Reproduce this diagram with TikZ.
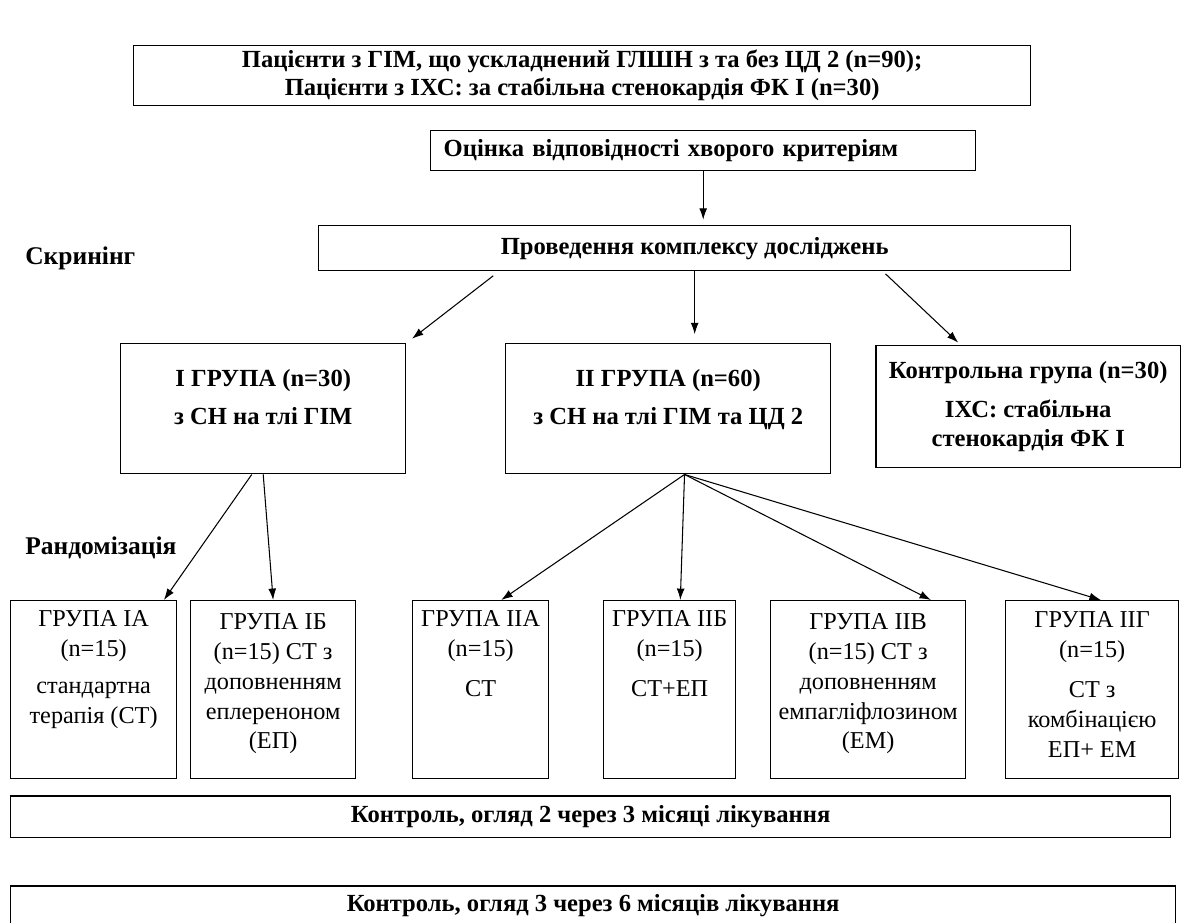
\documentclass[tikz,border=0pt]{standalone}
\usepackage{fontspec}
\setmainfont{Liberation Serif}
\usetikzlibrary{arrows.meta, positioning, calc}

\begin{document}
\begin{tikzpicture}[x=0.02cm, y=-0.02cm]

\tikzstyle{block}=[rectangle,draw,line width=0.85pt,anchor=north west,inner sep=0pt,align=center,font=\fontsize{14}{16.5}\selectfont\bfseries]
\tikzstyle{arm}=[rectangle,draw,line width=0.75pt,anchor=north west,inner sep=0pt,align=center,minimum height=3.56cm,font=\fontsize{13.8}{17}\selectfont]
\tikzstyle{tag}=[anchor=west,inner sep=0pt,font=\fontsize{14.5}{17}\selectfont\bfseries]
\tikzstyle{line}=[draw, -{Latex[length=6.5pt,width=4.5pt]}, line width=0.6pt]

\clip (0,0) rectangle (1187,923);

\node (top) [block,minimum width=17.94cm,minimum height=1.2cm] at (133,45) {Пацієнти з ГІМ, що ускладнений ГЛШН з та без ЦД 2 (n=90);\\[-0.5pt] Пацієнти з ІХС: за стабільна стенокардія ФК І (n=30)};

\node (crit) [block,minimum height=0.8cm,text width=10.38cm,inner xsep=0.26cm,align=left] at (430,130) {Оцінка відповідності хворого критеріям};

\node (research) [block,minimum width=15.04cm,minimum height=0.9cm] at (318,225) {Проведення комплексу досліджень};

\node (screen) [tag] at (25,258) {Скринінг};

\node (grp1) [block,minimum width=5.7cm,minimum height=2.6cm,text depth=0.46cm] at (120,343) {І ГРУПА (n=30)\\[5pt] з СН на тлі ГІМ};
\node (grp2) [block,minimum width=6.5cm,minimum height=2.6cm,text depth=0.46cm] at (505,343) {ІІ ГРУПА (n=60)\\[5pt] з СН на тлі ГІМ та ЦД 2};
\node (ctrl) [block,minimum width=6.1cm,minimum height=2.44cm] at (875,345) {Контрольна група (n=30)\\[6pt] ІХС: стабільна\\ стенокардія ФК І};

\node (rand) [tag] at (25,548) {Рандомізація};

\node (ia) [arm,minimum width=3.32cm,text depth=0.9cm] at (10,600) {ГРУПА ІА\\ (n=15)\\[4pt] стандартна\\ терапія (СТ)};
\node (ib) [arm,minimum width=3.3cm,text depth=0.34cm] at (190,600) {ГРУПА ІБ\\ (n=15) СТ з\\ доповненням\\ еплереноном\\ (ЕП)};
\node (iia) [arm,minimum width=2.72cm,text depth=1.44cm] at (412,600) {ГРУПА ІІА\\ (n=15)\\[6pt] СТ};
\node (iib) [arm,minimum width=2.64cm,text depth=1.44cm] at (603,600) {ГРУПА ІІБ\\ (n=15)\\[6pt] СТ+ЕП};
\node (iiv) [arm,minimum width=3.9cm,text depth=0.34cm] at (770,600) {ГРУПА ІІВ\\ (n=15) СТ з\\ доповненням\\ емпагліфлозином\\ (ЕМ)};
\node (iig) [arm,minimum width=3.46cm,text depth=0.2cm] at (1005,600) {ГРУПА ІІГ\\ (n=15)\\[6pt] СТ з\\ комбінацією\\ ЕП+ ЕМ};

\node (check2) [block,minimum width=23.2cm,minimum height=0.84cm] at (10,795) {Контроль, огляд 2 через 3 місяці лікування};
\node (check3) [block,minimum width=23.3cm,minimum height=0.8cm] at (10,885) {Контроль, огляд 3 через 6 місяців лікування};

% Connections
\draw[line,shorten >=3pt] (crit.south) -- (crit.south |- research.north);

\draw[line,shorten <=4pt,shorten >=4pt] ($(research.south west)!0.24!(research.south east)$) -- (grp1.north east);
\draw[line,shorten >=5pt] (research.south) -- (research.south |- grp2.north);
\draw[line,shorten <=2pt,shorten >=2pt] ($(research.south west)!0.75!(research.south east)$) -- ($(ctrl.north west)!0.28!(ctrl.north east)$);

\draw[line] ($(grp1.south west)!0.46!(grp1.south east)$) -- ($(ia.north west)!0.92!(ia.north east)$);
\draw[line] (grp1.south) -- (ib.north);

\coordinate (fan) at ($(grp2.south west)!0.55!(grp2.south east)$);
\draw[line] (fan) -- ($(iia.north west)!0.65!(iia.north east)$);
\draw[line] (fan) -- ($(iib.north west)!0.58!(iib.north east)$);
\draw[line] (fan) -- ($(iiv.north west)!0.82!(iiv.north east)$);
\draw[line] (fan) -- ($(iig.north west)!0.55!(iig.north east)$);

\end{tikzpicture}
\end{document}
